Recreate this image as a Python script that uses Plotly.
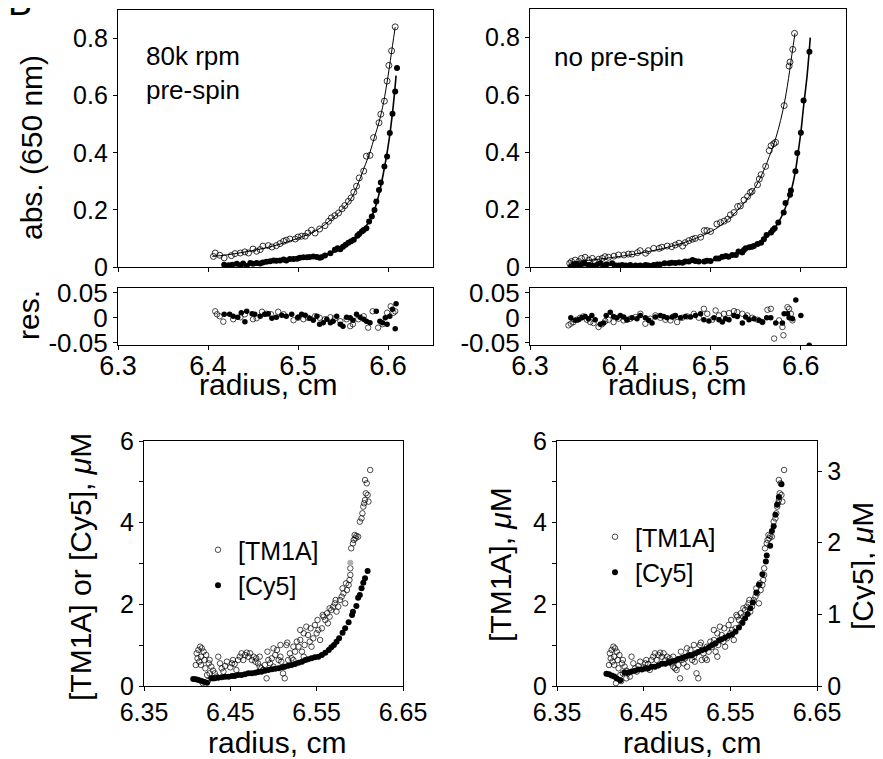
import plotly.graph_objects as go

# ---------------- data ----------------
# Top-left panel: 80k rpm pre-spin, absorbance at 650 nm
tl_open_r = [6.406, 6.408, 6.413, 6.418, 6.426, 6.430, 6.436, 6.441, 6.445, 6.450, 6.454, 6.458, 6.461, 6.467,
             6.471, 6.476, 6.480, 6.484, 6.487, 6.491, 6.497, 6.500, 6.504, 6.508, 6.511, 6.515, 6.519, 6.524,
             6.530, 6.534, 6.537, 6.541, 6.545, 6.549, 6.552, 6.556, 6.559, 6.562, 6.565, 6.568, 6.573, 6.576,
             6.580, 6.584, 6.590, 6.592, 6.596, 6.599, 6.601, 6.604, 6.608]
tl_open_a = [0.037, 0.049, 0.041, 0.032, 0.040, 0.047, 0.049, 0.053, 0.049, 0.063, 0.055, 0.061, 0.073, 0.075,
             0.070, 0.075, 0.082, 0.090, 0.094, 0.098, 0.098, 0.105, 0.108, 0.108, 0.119, 0.129, 0.119, 0.133,
             0.145, 0.160, 0.172, 0.180, 0.189, 0.204, 0.215, 0.230, 0.242, 0.262, 0.283, 0.312, 0.336, 0.388,
             0.391, 0.453, 0.505, 0.535, 0.581, 0.651, 0.706, 0.757, 0.841]
tl_open_fit_r = [6.405, 6.42, 6.44, 6.46, 6.48, 6.50, 6.52, 6.54, 6.55, 6.56, 6.57, 6.575, 6.58, 6.585, 6.59,
                 6.595, 6.60, 6.605, 6.608]
tl_open_fit_a = [0.037, 0.042, 0.052, 0.064, 0.080, 0.101, 0.127, 0.175, 0.205, 0.245, 0.318, 0.360, 0.402,
                 0.455, 0.507, 0.575, 0.668, 0.775, 0.840]
tl_fill_r = [6.418, 6.423, 6.427, 6.432, 6.436, 6.439, 6.443, 6.447, 6.450, 6.454, 6.458, 6.461, 6.465, 6.469,
             6.473, 6.476, 6.480, 6.484, 6.487, 6.491, 6.495, 6.499, 6.502, 6.506, 6.510, 6.513, 6.517, 6.521,
             6.524, 6.526, 6.530, 6.536, 6.541, 6.544, 6.547, 6.550, 6.553, 6.556, 6.559, 6.562, 6.566, 6.568,
             6.571, 6.573, 6.576, 6.579, 6.582, 6.585, 6.587, 6.590, 6.592, 6.596, 6.599, 6.602, 6.605, 6.608, 6.610]
tl_fill_a = [0.008, 0.006, 0.008, 0.011, 0.006, 0.012, 0.002, 0.014, 0.011, 0.014, 0.012, 0.016, 0.018, 0.020,
             0.023, 0.022, 0.023, 0.026, 0.023, 0.028, 0.028, 0.029, 0.032, 0.034, 0.034, 0.035, 0.037, 0.035,
             0.032, 0.034, 0.040, 0.048, 0.060, 0.066, 0.062, 0.071, 0.078, 0.085, 0.090, 0.095, 0.109, 0.116,
             0.124, 0.130, 0.136, 0.159, 0.177, 0.200, 0.229, 0.270, 0.296, 0.352, 0.387, 0.469, 0.537, 0.615, 0.697]
tl_fill_fit_r = [6.418, 6.44, 6.46, 6.48, 6.50, 6.52, 6.535, 6.545, 6.555, 6.565, 6.575, 6.58, 6.585, 6.59,
                 6.595, 6.60, 6.605, 6.609]
tl_fill_fit_a = [0.006, 0.010, 0.015, 0.021, 0.029, 0.037, 0.047, 0.058, 0.077, 0.103, 0.140, 0.165, 0.200,
                 0.255, 0.330, 0.420, 0.540, 0.670]
tl_res_open_r = [6.408, 6.410, 6.413, 6.417, 6.428, 6.436, 6.441, 6.450, 6.454, 6.460, 6.465, 6.470, 6.478,
                 6.484, 6.495, 6.500, 6.506, 6.511, 6.519, 6.524, 6.530, 6.536, 6.541, 6.547, 6.554, 6.558,
                 6.561, 6.567, 6.573, 6.578, 6.583, 6.589, 6.594, 6.599, 6.603, 6.606, 6.608]
tl_res_open_v = [0.013, 0.007, 0.003, -0.008, -0.003, 0.001, 0.007, -0.003, -0.001, 0.012, 0.008, 0.007, 0.012,
                 0.007, -0.005, 0.0, -0.003, 0.0, 0.003, 0.0, -0.003, 0.001, -0.001, -0.007, -0.003, -0.017,
                 -0.013, -0.003, 0.003, -0.020, 0.013, -0.020, -0.013, 0.010, 0.023, 0.010, 0.013]
tl_res_fill_r = [6.418, 6.424, 6.428, 6.433, 6.437, 6.441, 6.443, 6.449, 6.452, 6.458, 6.463, 6.467, 6.471,
                 6.476, 6.482, 6.487, 6.493, 6.500, 6.504, 6.508, 6.513, 6.517, 6.521, 6.524, 6.528, 6.532,
                 6.536, 6.539, 6.543, 6.547, 6.550, 6.554, 6.558, 6.561, 6.565, 6.569, 6.573, 6.576, 6.580,
                 6.587, 6.591, 6.594, 6.597, 6.599, 6.602, 6.605, 6.608, 6.609]
tl_res_fill_v = [0.007, 0.007, 0.003, 0.001, 0.010, -0.008, 0.013, 0.008, 0.007, 0.003, 0.007, 0.008, -0.001,
                 0.001, 0.005, 0.003, 0.007, 0.001, 0.007, 0.005, -0.001, -0.005, 0.003, -0.013, -0.010, -0.003,
                 -0.010, -0.007, 0.003, -0.013, -0.017, 0.001, 0.0, -0.005, 0.007, 0.001, -0.003, -0.007, -0.010,
                 0.013, -0.007, -0.010, 0.0, -0.013, 0.003, 0.017, -0.022, 0.028]

# Top-right panel: no pre-spin
tr_open_r = [6.344, 6.346, 6.350, 6.354, 6.357, 6.361, 6.365, 6.369, 6.372, 6.376, 6.380, 6.383, 6.387, 6.393,
             6.398, 6.404, 6.409, 6.413, 6.419, 6.422, 6.428, 6.431, 6.437, 6.443, 6.446, 6.452, 6.457, 6.461,
             6.465, 6.469, 6.472, 6.476, 6.480, 6.483, 6.489, 6.493, 6.496, 6.500, 6.507, 6.511, 6.515, 6.519,
             6.522, 6.526, 6.530, 6.533, 6.537, 6.541, 6.544, 6.546, 6.552, 6.554, 6.556, 6.561, 6.565, 6.567,
             6.570, 6.572, 6.5815, 6.587, 6.588, 6.591, 6.593]
tr_open_a = [0.013, 0.019, 0.024, 0.019, 0.030, 0.034, 0.024, 0.030, 0.019, 0.027, 0.030, 0.036, 0.034, 0.038,
             0.042, 0.042, 0.045, 0.045, 0.050, 0.057, 0.048, 0.057, 0.065, 0.065, 0.069, 0.073, 0.071, 0.077,
             0.083, 0.073, 0.085, 0.092, 0.097, 0.100, 0.104, 0.127, 0.127, 0.124, 0.150, 0.155, 0.160, 0.167,
             0.182, 0.190, 0.211, 0.213, 0.234, 0.246, 0.260, 0.264, 0.287, 0.307, 0.322, 0.351, 0.406, 0.423,
             0.430, 0.435, 0.563, 0.701, 0.715, 0.759, 0.815]
tr_open_fit_r = [6.344, 6.37, 6.40, 6.43, 6.46, 6.49, 6.51, 6.53, 6.54, 6.55, 6.56, 6.565, 6.57, 6.575, 6.58,
                 6.585, 6.59, 6.5935]
tr_open_fit_a = [0.017, 0.025, 0.037, 0.053, 0.075, 0.108, 0.142, 0.198, 0.235, 0.280, 0.345, 0.385, 0.428,
                 0.480, 0.545, 0.630, 0.740, 0.815]
tr_fill_r = [6.345, 6.348, 6.352, 6.356, 6.360, 6.365, 6.369, 6.374, 6.378, 6.381, 6.385, 6.391, 6.394, 6.398,
             6.402, 6.406, 6.411, 6.417, 6.422, 6.428, 6.431, 6.437, 6.441, 6.444, 6.449, 6.454, 6.457, 6.461,
             6.465, 6.469, 6.472, 6.476, 6.480, 6.483, 6.487, 6.493, 6.496, 6.500, 6.506, 6.509, 6.513, 6.517,
             6.520, 6.524, 6.528, 6.531, 6.535, 6.537, 6.539, 6.543, 6.546, 6.548, 6.552, 6.556, 6.559, 6.562,
             6.567, 6.569, 6.571, 6.575, 6.581, 6.583, 6.588, 6.589, 6.594, 6.596, 6.600, 6.603, 6.6095]
tr_fill_a = [0.001, 0.007, 0.010, 0.007, 0.013, 0.007, 0.005, 0.007, 0.013, 0.005, 0.010, 0.013, 0.006, 0.005,
             0.007, 0.005, 0.007, 0.005, 0.005, 0.007, 0.005, 0.007, 0.009, 0.009, 0.013, 0.013, 0.015, 0.014,
             0.016, 0.015, 0.019, 0.019, 0.024, 0.021, 0.019, 0.019, 0.022, 0.021, 0.030, 0.030, 0.036, 0.038,
             0.036, 0.042, 0.042, 0.054, 0.051, 0.059, 0.065, 0.069, 0.071, 0.073, 0.080, 0.085, 0.097, 0.112,
             0.120, 0.129, 0.135, 0.155, 0.190, 0.223, 0.252, 0.267, 0.334, 0.398, 0.468, 0.581, 0.751]
tr_fill_fit_r = [6.345, 6.38, 6.42, 6.46, 6.50, 6.52, 6.54, 6.555, 6.565, 6.575, 6.58, 6.585, 6.59, 6.594,
                 6.597, 6.600, 6.603, 6.607, 6.6104]
tr_fill_fit_a = [0.004, 0.006, 0.009, 0.014, 0.022, 0.034, 0.062, 0.086, 0.112, 0.155, 0.185, 0.225, 0.275,
                 0.335, 0.400, 0.470, 0.560, 0.670, 0.800]
tr_res_open_r = [6.3426, 6.3452, 6.3481, 6.3519, 6.3556, 6.3593, 6.363, 6.3667, 6.3704, 6.3759, 6.3796, 6.3833,
                 6.387, 6.3926, 6.3981, 6.4037, 6.4074, 6.4111, 6.4167, 6.4222, 6.4278, 6.4333, 6.4389, 6.4444,
                 6.450, 6.4556, 6.4593, 6.463, 6.4685, 6.4741, 6.4815, 6.487, 6.4926, 6.4963, 6.5019, 6.5056,
                 6.5093, 6.5148, 6.5204, 6.5259, 6.5296, 6.5352, 6.5407, 6.5463, 6.5519, 6.5574, 6.563, 6.5667,
                 6.5704, 6.5759, 6.5796, 6.5807, 6.5852, 6.587, 6.5889, 6.5907]
tr_res_open_v = [-0.0153, -0.012, -0.0087, -0.004, 0.0, 0.0027, -0.004, -0.0087, -0.0107, -0.0187, -0.0133,
                 -0.0067, -0.004, -0.0087, -0.002, -0.0053, -0.004, -0.002, 0.0013, 0.008, -0.012, -0.002,
                 0.0047, 0.0, -0.004, -0.0053, 0.0027, -0.0087, 0.0, 0.0027, 0.008, 0.0, 0.018, 0.008, -0.004,
                 0.0147, 0.0047, 0.008, 0.0093, 0.0133, 0.0113, 0.008, 0.0047, 0.0, -0.004, -0.0087, 0.016,
                 0.018, -0.042, -0.0053, -0.0187, -0.0353, 0.0213, 0.018, 0.008, -0.0053]
tr_res_fill_r = [6.3452, 6.350, 6.3537, 6.3574, 6.3611, 6.3648, 6.3685, 6.3722, 6.3778, 6.3815, 6.3844, 6.3889,
                 6.3926, 6.3963, 6.400, 6.4037, 6.4074, 6.413, 6.4185, 6.4222, 6.4278, 6.4315, 6.4352, 6.4389,
                 6.4444, 6.4481, 6.4519, 6.4574, 6.4611, 6.4667, 6.4722, 6.4778, 6.4833, 6.4889, 6.4926, 6.4981,
                 6.5037, 6.5093, 6.513, 6.5167, 6.5204, 6.5259, 6.5296, 6.5352, 6.5389, 6.5426, 6.5481, 6.5537,
                 6.5574, 6.5622, 6.5667, 6.5722, 6.5796, 6.5815, 6.5852, 6.587, 6.5907, 6.5944, 6.600, 6.6093]
tr_res_fill_v = [0.0, -0.0053, -0.004, 0.0, 0.0027, -0.002, 0.0047, -0.004, -0.0133, -0.0107, 0.0047, 0.0113,
                 0.0027, 0.0, 0.0047, 0.0013, -0.004, 0.0, -0.002, 0.0047, 0.0, -0.0053, -0.0107, 0.0013, 0.0047,
                 0.0027, 0.0, 0.0013, 0.0047, 0.0, 0.0027, 0.0013, 0.0047, 0.008, -0.004, -0.0067, 0.0, -0.004,
                 -0.0087, -0.002, -0.004, 0.0047, 0.0027, -0.0107, 0.0013, -0.004, -0.002, -0.0053, -0.0087, 0.0,
                 0.0, -0.0107, -0.0107, 0.008, 0.008, 0.0, -0.002, 0.036, 0.0047, -0.0553]

# Bottom panels: concentrations (µM)
tm1a_r = [6.411, 6.413, 6.415, 6.417, 6.419, 6.412, 6.414, 6.416, 6.420, 6.422, 6.425, 6.426, 6.428, 6.430,
          6.432, 6.434, 6.416, 6.421, 6.410, 6.426, 6.430, 6.423, 6.418, 6.424, 6.436, 6.438, 6.440, 6.442,
          6.444, 6.446, 6.450, 6.452, 6.453, 6.455, 6.457, 6.459, 6.461, 6.463, 6.465, 6.467, 6.469, 6.471,
          6.473, 6.475, 6.477, 6.479, 6.480, 6.482, 6.484, 6.486, 6.488, 6.490, 6.492, 6.494, 6.496, 6.498,
          6.500, 6.502, 6.504, 6.506, 6.508, 6.509, 6.511, 6.513, 6.515, 6.517, 6.519, 6.521, 6.523, 6.525,
          6.527, 6.529, 6.531, 6.533, 6.535, 6.536, 6.538, 6.540, 6.542, 6.544, 6.546, 6.548, 6.550, 6.552,
          6.554, 6.556, 6.558, 6.560, 6.562, 6.563, 6.565, 6.567, 6.569, 6.571, 6.573, 6.575, 6.577, 6.579,
          6.581, 6.583, 6.585, 6.587, 6.588, 6.589, 6.589, 6.590, 6.592, 6.593, 6.594, 6.595, 6.596, 6.598,
          6.600, 6.602, 6.603, 6.604, 6.605, 6.606, 6.607, 6.609, 6.608, 6.606, 6.610, 6.612,
          6.551, 6.557, 6.565, 6.572, 6.580, 6.584, 6.543, 6.535, 6.531, 6.523, 6.516, 6.508, 6.500, 6.493, 6.484]
tm1a_c = [0.800, 0.882, 0.963, 0.922, 0.841, 0.678, 0.596, 0.718, 0.637, 0.759, 0.555, 0.637, 0.474, 0.376,
          0.310, 0.229, 0.514, 0.433, 0.514, 0.310, 0.188, 0.269, 0.070, 0.120, 0.718, 0.555, 0.433, 0.351,
          0.490, 0.596, 0.457, 0.555, 0.637, 0.539, 0.392, 0.637, 0.718, 0.800, 0.637, 0.759, 0.816, 0.718,
          0.800, 0.637, 0.718, 0.596, 0.678, 0.555, 0.474, 0.433, 0.392, 0.514, 0.188, 0.637, 0.555, 0.678,
          0.474, 0.759, 0.882, 0.637, 0.718, 0.596, 0.310, 0.188, 1.004, 0.637, 0.800, 0.678, 0.637, 0.841,
          1.086, 0.963, 1.127, 0.841, 0.718, 1.004, 1.453, 1.249, 1.086, 0.963, 1.167, 1.494, 1.290, 1.372,
          1.127, 1.412, 1.698, 1.616, 1.780, 1.535, 1.698, 1.861, 1.943, 2.024, 1.821, 1.943, 2.106, 2.188,
          2.269, 2.024, 2.351, 2.474, 2.596, 2.719, 2.882, 3.372, 3.494, 3.576, 3.698, 3.617, 3.674, 3.657,
          4.025, 4.106, 4.229, 4.392, 4.474, 4.555, 4.719, 4.678, 4.964, 5.045, 4.515, 5.290,
          1.616, 1.739, 1.902, 2.106, 2.392, 2.514, 1.412, 1.290, 1.372, 0.963, 1.062, 1.004, 0.922, 0.841, 0.718]
cy5_r = [6.407, 6.410, 6.413, 6.416, 6.419, 6.423, 6.428, 6.432, 6.436, 6.440, 6.444, 6.448, 6.452, 6.455,
         6.459, 6.463, 6.467, 6.471, 6.475, 6.479, 6.482, 6.486, 6.490, 6.494, 6.498, 6.502, 6.506, 6.510,
         6.513, 6.517, 6.521, 6.525, 6.529, 6.533, 6.537, 6.540, 6.544, 6.548, 6.552, 6.556, 6.560, 6.564,
         6.567, 6.570, 6.573, 6.576, 6.580, 6.583, 6.587, 6.591, 6.592, 6.596, 6.598, 6.600, 6.602, 6.604,
         6.606, 6.609]
cy5_c = [0.171, 0.163, 0.147, 0.131, 0.106, 0.082, 0.188, 0.188, 0.204, 0.212, 0.229, 0.229, 0.245, 0.245,
         0.269, 0.269, 0.286, 0.310, 0.310, 0.327, 0.343, 0.351, 0.376, 0.392, 0.408, 0.425, 0.433, 0.457,
         0.473, 0.498, 0.514, 0.539, 0.571, 0.596, 0.637, 0.653, 0.678, 0.702, 0.718, 0.759, 0.816, 0.882,
         0.947, 1.004, 1.085, 1.167, 1.306, 1.412, 1.559, 1.739, 1.820, 1.959, 2.163, 2.229, 2.392, 2.531,
         2.637, 2.817]
grey_r = [6.589]
grey_c = [3.02]

# ---------------- layout helpers ----------------
# The page body has an 8 px margin, so the figure is drawn 8 px in from the window corner.
OFF = 8
W, H = 883 - OFF, 759 - OFF
FONT = "Liberation Sans, Arial, Helvetica, sans-serif"


def dx(a, b):
    return [(a - OFF) / W, (b - OFF) / W]


def dy(top, bottom):
    return [1 - (bottom - OFF) / H, 1 - (top - OFF) / H]


def px(x):
    return (x - OFF) / W


def py(y):
    return 1 - (y - OFF) / H


fig = go.Figure()

open_m = dict(symbol="circle-open", size=6, color="black", line=dict(width=0.8, color="black"))
open_s = dict(symbol="circle-open", size=5.5, color="black", line=dict(width=0.7, color="black"))
fill_m = dict(symbol="circle", size=6, color="black", line=dict(width=0))
fill_s = dict(symbol="circle", size=5.5, color="black", line=dict(width=0))

# Top-left
fig.add_trace(go.Scatter(x=tl_open_fit_r, y=tl_open_fit_a, mode="lines", line=dict(color="black", width=1, shape="spline"),
                         xaxis="x", yaxis="y", showlegend=False, hoverinfo="skip"))
fig.add_trace(go.Scatter(x=tl_fill_fit_r, y=tl_fill_fit_a, mode="lines", line=dict(color="black", width=1.6, shape="spline"),
                         xaxis="x", yaxis="y", showlegend=False, hoverinfo="skip"))
fig.add_trace(go.Scatter(x=tl_open_r, y=tl_open_a, mode="markers", marker=open_m, xaxis="x", yaxis="y", showlegend=False))
fig.add_trace(go.Scatter(x=tl_fill_r, y=tl_fill_a, mode="markers", marker=fill_m, xaxis="x", yaxis="y", showlegend=False))
fig.add_trace(go.Scatter(x=tl_res_open_r, y=tl_res_open_v, mode="markers", marker=open_s, xaxis="x2", yaxis="y2", showlegend=False))
fig.add_trace(go.Scatter(x=tl_res_fill_r, y=tl_res_fill_v, mode="markers", marker=fill_s, xaxis="x2", yaxis="y2", showlegend=False))

# Top-right
fig.add_trace(go.Scatter(x=tr_open_fit_r, y=tr_open_fit_a, mode="lines", line=dict(color="black", width=1, shape="spline"),
                         xaxis="x3", yaxis="y3", showlegend=False, hoverinfo="skip"))
fig.add_trace(go.Scatter(x=tr_fill_fit_r, y=tr_fill_fit_a, mode="lines", line=dict(color="black", width=1.6, shape="spline"),
                         xaxis="x3", yaxis="y3", showlegend=False, hoverinfo="skip"))
fig.add_trace(go.Scatter(x=tr_open_r, y=tr_open_a, mode="markers", marker=open_m, xaxis="x3", yaxis="y3", showlegend=False))
fig.add_trace(go.Scatter(x=tr_fill_r, y=tr_fill_a, mode="markers", marker=fill_m, xaxis="x3", yaxis="y3", showlegend=False))
fig.add_trace(go.Scatter(x=tr_res_open_r, y=tr_res_open_v, mode="markers", marker=open_s, xaxis="x4", yaxis="y4", showlegend=False))
fig.add_trace(go.Scatter(x=tr_res_fill_r, y=tr_res_fill_v, mode="markers", marker=fill_s, xaxis="x4", yaxis="y4", showlegend=False))

# Bottom-left
fig.add_trace(go.Scatter(x=tm1a_r, y=tm1a_c, mode="markers", name="[TM1A]", marker=open_s,
                         xaxis="x5", yaxis="y5", legend="legend"))
fig.add_trace(go.Scatter(x=cy5_r, y=cy5_c, mode="markers", name="[Cy5]", marker=fill_m,
                         xaxis="x5", yaxis="y5", legend="legend"))
fig.add_trace(go.Scatter(x=grey_r, y=grey_c, mode="markers", marker=dict(symbol="circle", size=6, color="#b0b0b0"),
                         xaxis="x5", yaxis="y5", showlegend=False))

# Bottom-right
fig.add_trace(go.Scatter(x=tm1a_r, y=tm1a_c, mode="markers", name="[TM1A]", marker=open_s,
                         xaxis="x6", yaxis="y6", legend="legend2"))
fig.add_trace(go.Scatter(x=cy5_r, y=cy5_c, mode="markers", name="[Cy5]", marker=fill_m,
                         xaxis="x6", yaxis="y7", legend="legend2"))

base = dict(showline=True, linecolor="black", linewidth=1.3, ticks="outside", ticklen=4, tickwidth=1.2,
            tickcolor="black", showgrid=False, zeroline=False, mirror=True, automargin=False,
            tickfont=dict(family=FONT, size=25, color="black"))

top_x = dict(base, range=[6.3, 6.65], tickvals=[6.3, 6.4, 6.5, 6.6], showticklabels=False)
top_y = dict(base, range=[0, 0.9], tickvals=[0, 0.2, 0.4, 0.6, 0.8], ticktext=["0", "0.2", "0.4", "0.6", "0.8"])
res_x = dict(base, range=[6.3, 6.65], tickvals=[6.3, 6.4, 6.5, 6.6], ticktext=["6.3", "6.4", "6.5", "6.6"],
             tickfont=dict(family=FONT, size=27, color="black"), ticklabelstandoff=-8)
res_y = dict(base, range=[-0.055, 0.06], tickvals=[-0.05, 0, 0.05], ticktext=["-0.05", "0", "0.05"],
             tickfont=dict(family=FONT, size=26, color="black"))
bot_x = dict(base, range=[6.35, 6.65], tickvals=[6.35, 6.45, 6.55, 6.65], ticktext=["6.35", "6.45", "6.55", "6.65"])
bot_y = dict(base, range=[0, 6], tickvals=[0, 1, 2, 3, 4, 5, 6], ticktext=["0", "", "2", "", "4", "", "6"])

fig.update_layout(
    width=W, height=H, margin=dict(l=0, r=0, t=0, b=0, autoexpand=False),
    paper_bgcolor="white", plot_bgcolor="white",
    font=dict(family=FONT, color="black"),
    xaxis=dict(top_x, domain=dx(118, 433), anchor="y"),
    yaxis=dict(top_y, domain=dy(10, 267), anchor="x"),
    xaxis2=dict(res_x, domain=dx(118, 433), anchor="y2"),
    yaxis2=dict(res_y, domain=dy(288, 345), anchor="x2"),
    xaxis3=dict(top_x, domain=dx(530, 846), anchor="y3"),
    yaxis3=dict(top_y, domain=dy(9, 267), anchor="x3"),
    xaxis4=dict(res_x, domain=dx(530, 846), anchor="y4"),
    yaxis4=dict(res_y, domain=dy(288, 345), anchor="x4"),
    xaxis5=dict(bot_x, domain=dx(144, 403), anchor="y5"),
    yaxis5=dict(bot_y, domain=dy(441, 686), anchor="x5"),
    xaxis6=dict(bot_x, domain=dx(557, 817), anchor="y6"),
    yaxis6=dict(bot_y, domain=dy(441, 686), anchor="x6"),
    yaxis7=dict(base, range=[0, 3.42], tickvals=[0, 1, 2, 3], ticktext=["0", "1", "2", "3"],
                overlaying="y6", side="right", anchor="x6", mirror=False),
    legend=dict(x=px(198), y=py(527), xanchor="left", yanchor="top", bgcolor="rgba(0,0,0,0)",
                font=dict(family=FONT, size=25, color="black"), itemsizing="trace", tracegroupgap=0),
    legend2=dict(x=px(595), y=py(514), xanchor="left", yanchor="top", bgcolor="rgba(0,0,0,0)",
                 font=dict(family=FONT, size=25, color="black"), itemsizing="trace", tracegroupgap=0),
)

ann = []


def label(text, x, y, size=30, angle=0, xanchor="center", align="center"):
    ann.append(dict(text=text, x=px(x), y=py(y), xref="paper", yref="paper", showarrow=False,
                    textangle=angle, xanchor=xanchor, yanchor="middle", align=align,
                    font=dict(family=FONT, size=size, color="black")))


label("B", 20, 3, size=36)
label("abs. (650 nm)", 31, 148, angle=-90)
label("res.", 28, 315, angle=-90)
label("radius, cm", 268, 384)
label("radius, cm", 677, 384)
label("80k rpm<br>pre-spin", 144, 73, size=26, xanchor="left", align="left")
label("no pre-spin", 552, 57, size=26, xanchor="left", align="left")
label("[TM1A] or [Cy5], <i>μ</i>M", 80, 567, angle=-90)
label("[TM1A], <i>μ</i>M", 500, 565, angle=-90)
label("[Cy5], <i>μ</i>M", 862, 566, angle=-90)
label("radius, cm", 277, 742)
label("radius, cm", 692, 742)

fig.update_layout(annotations=ann)
fig.write_html("out.html")
